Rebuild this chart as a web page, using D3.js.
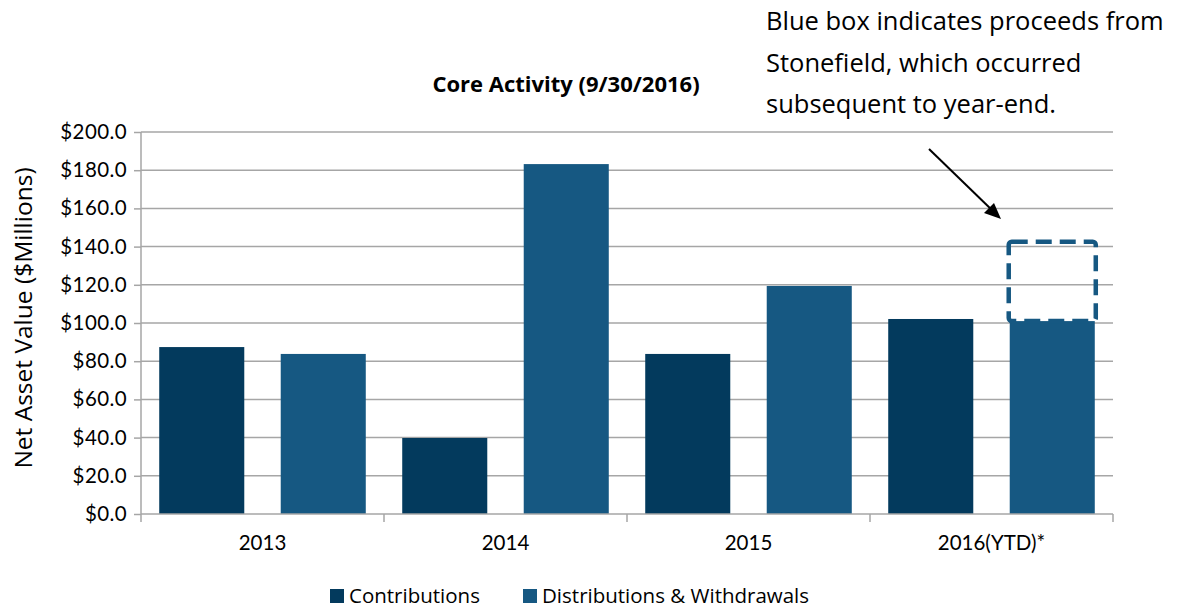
<!DOCTYPE html>
<html lang="en">
<head>
    <meta charset="UTF-8">
    <title>Core Activity</title>
    <style>
        body { margin: 0; background: #fff; }
        .axis .tick text { font: 20.5px Lato, sans-serif; fill: #000; }
        .yaxis .tick text { font-size: 20.5px; letter-spacing: 0.4px; }
        .grid line { stroke: #a6a6a6; stroke-width: 1.5px; }
        .axis path, .axis line { stroke: #a6a6a6; stroke-width: 1.5px; }
    </style>
</head>
<body>
<svg width="1178" height="607"></svg>
<script src="https://cdnjs.cloudflare.com/ajax/libs/d3/7.8.5/d3.min.js"></script>
<script>
    let years = ["2013", "2014", "2015", "2016(YTD)*"];
    let series = ["Contributions", "Distributions & Withdrawals"];
    let contributions = [87.4, 39.8, 83.8, 102.1];
    let distributions = [83.8, 183.2, 119.4, 101.0];
    let stonefield = 41.5; // dashed box stacked on 2016 distributions
    let yTicks = [0, 20, 40, 60, 80, 100, 120, 140, 160, 180, 200];
    let colors = ["#033a5d", "#165882"];

    let svg = d3.select("svg"),
        margin = {top: 132, left: 141, right: 65, bottom: 93},
        width = 1178 - margin.left - margin.right,
        height = 607 - margin.top - margin.bottom,
        g = svg.append("g").attr("transform", "translate(" + margin.left + "," + margin.top + ")");

    let x0 = d3.scaleBand().domain(years).range([0, width]);
    let x1 = d3.scaleBand().domain(series).range([0, x0.bandwidth()])
        .paddingInner(0.3).paddingOuter(0.15);
    let y = d3.scaleLinear().domain([0, 200]).range([height, 0]);

    // gridlines
    g.append("g").attr("class", "grid")
        .selectAll("line").data(yTicks.slice(1)).enter().append("line")
        .attr("x1", 0).attr("x2", width)
        .attr("y1", d => y(d)).attr("y2", d => y(d));

    // y axis
    let yAxis = g.append("g").attr("class", "axis yaxis")
        .call(d3.axisLeft(y).tickValues(yTicks).tickSize(7).tickPadding(7)
            .tickFormat(d => "$" + d3.format(".1f")(d)));
    yAxis.select(".domain").attr("d", "M0," + y(0) + "V" + y(200));

    let rows = years.map((yr, i) => ({year: yr, values: [contributions[i], distributions[i]]}));

    let groups = g.selectAll(".year").data(rows).enter().append("g")
        .attr("transform", d => "translate(" + x0(d.year) + ",0)");
    groups.selectAll("rect").data(d => d.values.map((v, j) => ({s: series[j], v: v, j: j})))
        .enter().append("rect")
        .attr("x", d => x1(d.s)).attr("width", x1.bandwidth())
        .attr("y", d => y(d.v)).attr("height", d => y(0) - y(d.v))
        .attr("fill", d => colors[d.j]);

    // x axis
    let xAxis = g.append("g").attr("class", "axis")
        .attr("transform", "translate(0," + height + ")")
        .call(d3.axisBottom(x0).tickSize(0).tickPadding(21));
    xAxis.select(".domain").attr("d", "M0,0H" + width);
    xAxis.selectAll(".tick text").attr("dy", "0.71em");
    xAxis.selectAll(".sep").data(d3.range(years.length + 1)).enter().append("line")
        .attr("class", "sep")
        .attr("x1", i => i * x0.step()).attr("x2", i => i * x0.step())
        .attr("y1", 0).attr("y2", 8);

    // dashed Stonefield box
    let last = years[years.length - 1], lastDist = distributions[distributions.length - 1];
    g.append("rect")
        .attr("x", x0(last) + x1(series[1]) - 1)
        .attr("width", x1.bandwidth() + 2)
        .attr("y", y(lastDist + stonefield))
        .attr("height", y(lastDist) - y(lastDist + stonefield))
        .attr("rx", 3)
        .attr("fill", "none")
        .attr("stroke", colors[1])
        .attr("stroke-width", 4.5)
        .attr("stroke-dasharray", "16,8");

    // title
    svg.append("text").attr("x", 566).attr("y", 92)
        .attr("text-anchor", "middle")
        .style("font-family", "'Open Sans', sans-serif")
        .style("font-weight", "bold")
        .style("font-size", "22px")
        .text("Core Activity (9/30/2016)");

    // y label
    svg.append("text")
        .attr("transform", "translate(32,318) rotate(-90)")
        .attr("text-anchor", "middle")
        .style("font", "24.5px 'Open Sans', sans-serif")
        .text("Net Asset Value ($Millions)");

    // annotation
    let note = ["Blue box indicates proceeds from", "Stonefield, which occurred", "subsequent to year-end."];
    svg.append("g").selectAll("text").data(note).enter().append("text")
        .attr("x", 766).attr("y", (d, i) => 30 + i * 41.5)
        .style("font", "25.5px 'Open Sans', sans-serif")
        .text(d => d);

    // arrow
    svg.append("line")
        .attr("x1", 929).attr("y1", 149).attr("x2", 994).attr("y2", 212)
        .attr("stroke", "#000").attr("stroke-width", 2);
    svg.append("path")
        .attr("d", "M1001,219L984,213L994,203Z").attr("fill", "#000");

    // legend
    let legend = svg.append("g").selectAll("g").data(series).enter().append("g")
        .attr("transform", (d, i) => "translate(" + [330, 523][i] + ",589)");
    legend.append("rect").attr("width", 14).attr("height", 14).attr("fill", (d, i) => colors[i]);
    legend.append("text").attr("x", 19).attr("y", 14)
        .style("font", "20.5px 'Open Sans', sans-serif")
        .text(d => d);
</script>
</body>
</html>
